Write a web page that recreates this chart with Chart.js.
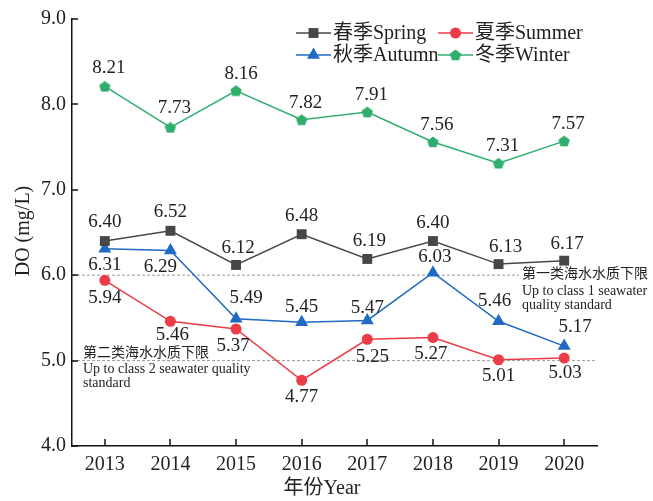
<!DOCTYPE html>
<html>
<head>
<meta charset="utf-8">
<script src="https://cdn.jsdelivr.net/npm/chart.js@4"></script>
<style>
  html, body { margin: 0; padding: 0; background: #fff; }
  #wrap { width: 653px; height: 501px; }
</style>
</head>
<body>
<div id="wrap"><canvas id="chart" width="653" height="501"></canvas></div>
<script>
// data
const years = ['2013', '2014', '2015', '2016', '2017', '2018', '2019', '2020'];
const springDO = [6.40, 6.52, 6.12, 6.48, 6.19, 6.40, 6.13, 6.17];
const summerDO = [5.94, 5.46, 5.37, 4.77, 5.25, 5.27, 5.01, 5.03];
const autumnDO = [6.31, 6.29, 5.49, 5.45, 5.47, 6.03, 5.46, 5.17];
const winterDO = [8.21, 7.73, 8.16, 7.82, 7.91, 7.56, 7.31, 7.57];
const seriesNames = ['春季Spring', '夏季Summer', '秋季Autumn', '冬季Winter'];
const yTicks = [4, 5, 6, 7, 8, 9];
const class1Limit = 6.0;
const class2Limit = 5.0;

// value label placement (dx, dy from the point), per series
const labelOffsets = [
    [[0, -19], [0, -19], [2, -17], [0, -18], [2, -18], [0, -18], [7, -17], [3, -17]],
    [[0, 18], [2, 14], [-3, 17], [0, 17], [5, 18], [-2, 16], [0, 16], [1, 15]],
    [[0, 16], [-10, 17], [10, -21], [0, -15], [0, -12], [2, -16], [-4, -20], [11, -19]],
    [[4, -18], [4, -19], [5, -17], [4, -17], [4, -17], [4, -17], [4, -17], [4, -17]],
];

const SERIF = "'Liberation Serif', 'Times New Roman', 'Noto Sans CJK SC', serif";
const colors = {
    spring: '#474747',
    summer: '#ec3c47',
    autumn: '#1f6bc4',
    winter: '#2fae6e',
};

// pentagon marker for winter
function makePentagon(size, color) {
    const c = document.createElement('canvas');
    c.width = size;
    c.height = size;
    const g = c.getContext('2d');
    const r = size / 2;
    g.beginPath();
    for (let i = 0; i < 5; i++) {
        const a = -Math.PI / 2 + i * 2 * Math.PI / 5;
        const px = r + r * Math.cos(a);
        const py = r + 0.5 + r * Math.sin(a);
        if (i === 0) g.moveTo(px, py); else g.lineTo(px, py);
    }
    g.closePath();
    g.fillStyle = color;
    g.fill();
    return c;
}
const pentagon = makePentagon(12, colors.winter);

function drawMarker(ctx, style, x, y, radius, color) {
    ctx.save();
    ctx.fillStyle = color;
    ctx.beginPath();
    if (style === 'rect') {
        const s = Math.SQRT1_2 * radius;
        ctx.rect(x - s, y - s, 2 * s, 2 * s);
    } else if (style === 'circle') {
        ctx.arc(x, y, radius, 0, Math.PI * 2);
    } else if (style === 'triangle') {
        for (let i = 0; i < 3; i++) {
            const a = -Math.PI / 2 + i * 2 * Math.PI / 3;
            const px = x + radius * Math.cos(a);
            const py = y + radius * Math.sin(a);
            if (i === 0) ctx.moveTo(px, py); else ctx.lineTo(px, py);
        }
        ctx.closePath();
    } else {
        ctx.drawImage(style, x - style.width / 2, y - style.height / 2);
        ctx.restore();
        return;
    }
    ctx.fill();
    ctx.restore();
}

function series(label, data, color, pointStyle, radius) {
    return {
        label,
        data,
        borderColor: color,
        backgroundColor: color,
        borderWidth: 1.5,
        pointStyle,
        pointRadius: radius,
        pointBorderWidth: 0,
        pointBackgroundColor: color,
        tension: 0,
        fill: false,
    };
}

// reference lines, inward ticks, axis titles (drawn under the data)
const backdropPlugin = {
    id: 'backdrop',
    beforeDatasetsDraw(chart) {
        const { ctx, chartArea, scales } = chart;
        const yS = scales.y;
        const xS = scales.x;
        ctx.save();
        ctx.strokeStyle = '#9a9a9a';
        ctx.lineWidth = 1;
        ctx.setLineDash([3, 2]);
        let y1 = yS.getPixelForValue(class1Limit);
        ctx.beginPath();
        ctx.moveTo(chartArea.left, y1);
        ctx.lineTo(519, y1);
        ctx.stroke();
        let y2 = yS.getPixelForValue(class2Limit);
        ctx.beginPath();
        ctx.moveTo(chartArea.left, y2);
        ctx.lineTo(chartArea.right, y2);
        ctx.stroke();
        ctx.setLineDash([]);

        // inward tick marks
        ctx.strokeStyle = '#111';
        ctx.lineWidth = 1.5;
        yTicks.forEach(v => {
            const py = Math.round(yS.getPixelForValue(v));
            ctx.beginPath();
            ctx.moveTo(chartArea.left, py);
            ctx.lineTo(chartArea.left + 6, py);
            ctx.stroke();
        });
        years.forEach((_, i) => {
            const px = Math.round(xS.getPixelForValue(i));
            ctx.beginPath();
            ctx.moveTo(px, chartArea.bottom);
            ctx.lineTo(px, chartArea.bottom - 7);
            ctx.stroke();
        });

        // annotation texts
        ctx.fillStyle = '#222';
        ctx.textAlign = 'left';
        ctx.textBaseline = 'middle';
        ctx.font = "14px " + SERIF;
        ctx.fillText('第一类海水水质下限', 522, 274);
        ctx.fillText('Up to class 1 seawater', 522, 291);
        ctx.fillText('quality standard', 522, 305);
        ctx.fillText('第二类海水水质下限', 83, 353);
        ctx.fillText('Up to class 2 seawater quality', 83, 369);
        ctx.fillText('standard', 83, 383);

        // axis titles
        ctx.font = "20px " + SERIF;
        ctx.textAlign = 'center';
        ctx.fillText('年份Year', 322, 489);
        ctx.save();
        ctx.translate(24, 231);
        ctx.rotate(-Math.PI / 2);
        ctx.fillText('DO (mg/L)', 0, 0);
        ctx.restore();
        ctx.restore();
    },
};

// value labels and legend (drawn over the data)
const labelPlugin = {
    id: 'valueLabels',
    afterDatasetsDraw(chart) {
        const { ctx } = chart;
        ctx.save();
        ctx.fillStyle = '#222';
        ctx.textAlign = 'center';
        ctx.textBaseline = 'middle';
        ctx.font = "19px " + SERIF;
        chart.data.datasets.forEach((ds, di) => {
            const meta = chart.getDatasetMeta(di);
            meta.data.forEach((pt, i) => {
                const [dx, dy] = labelOffsets[di][i];
                ctx.fillText(ds.data[i].toFixed(2), pt.x + dx, pt.y + dy);
            });
        });

        // legend
        const rows = [
            { x: 296, y: 33, ds: 0 },
            { x: 438, y: 33, ds: 1 },
            { x: 296, y: 55, ds: 2 },
            { x: 438, y: 55, ds: 3 },
        ];
        ctx.textAlign = 'left';
        ctx.font = "20px " + SERIF;
        rows.forEach(r => {
            const ds = chart.data.datasets[r.ds];
            ctx.strokeStyle = ds.borderColor;
            ctx.lineWidth = 1.5;
            ctx.beginPath();
            ctx.moveTo(r.x, r.y);
            ctx.lineTo(r.x + 35, r.y);
            ctx.stroke();
            drawMarker(ctx, ds.pointStyle, r.x + 17.5, r.y, ds.pointRadius, ds.borderColor);
            ctx.fillStyle = '#222';
            ctx.fillText(ds.label, r.x + 37, r.y + 1);
        });
        ctx.restore();
    },
};

new Chart(document.getElementById('chart'), {
    type: 'line',
    data: {
        labels: years,
        datasets: [
            series(seriesNames[0], springDO, colors.spring, 'rect', 7),
            series(seriesNames[1], summerDO, colors.summer, 'circle', 5.5),
            series(seriesNames[2], autumnDO, colors.autumn, 'triangle', 7.5),
            series(seriesNames[3], winterDO, colors.winter, pentagon, 6),
        ],
    },
    options: {
        responsive: false,
        animation: false,
        layout: { padding: { top: 19, right: 56, left: 0, bottom: 0 } },
        plugins: {
            legend: { display: false },
            tooltip: { enabled: false },
        },
        scales: {
            x: {
                type: 'category',
                offset: true,
                grid: { display: false, drawTicks: false },
                border: { display: true, color: '#111', width: 1.5 },
                ticks: {
                    color: '#222',
                    padding: 7,
                    maxRotation: 0,
                    font: { family: SERIF, size: 20 },
                },
                afterFit(scale) { scale.height = 55; },
            },
            y: {
                min: 4,
                max: 9,
                grid: { display: false, drawTicks: false },
                border: { display: true, color: '#111', width: 1.5 },
                afterBuildTicks(scale) {
                    scale.ticks = yTicks.map(v => ({ value: v }));
                },
                ticks: {
                    color: '#222',
                    padding: 6,
                    font: { family: SERIF, size: 20 },
                    callback: v => Number(v).toFixed(1),
                },
                afterFit(scale) { scale.width = 72; },
            },
        },
    },
    plugins: [backdropPlugin, labelPlugin],
});
</script>
</body>
</html>
